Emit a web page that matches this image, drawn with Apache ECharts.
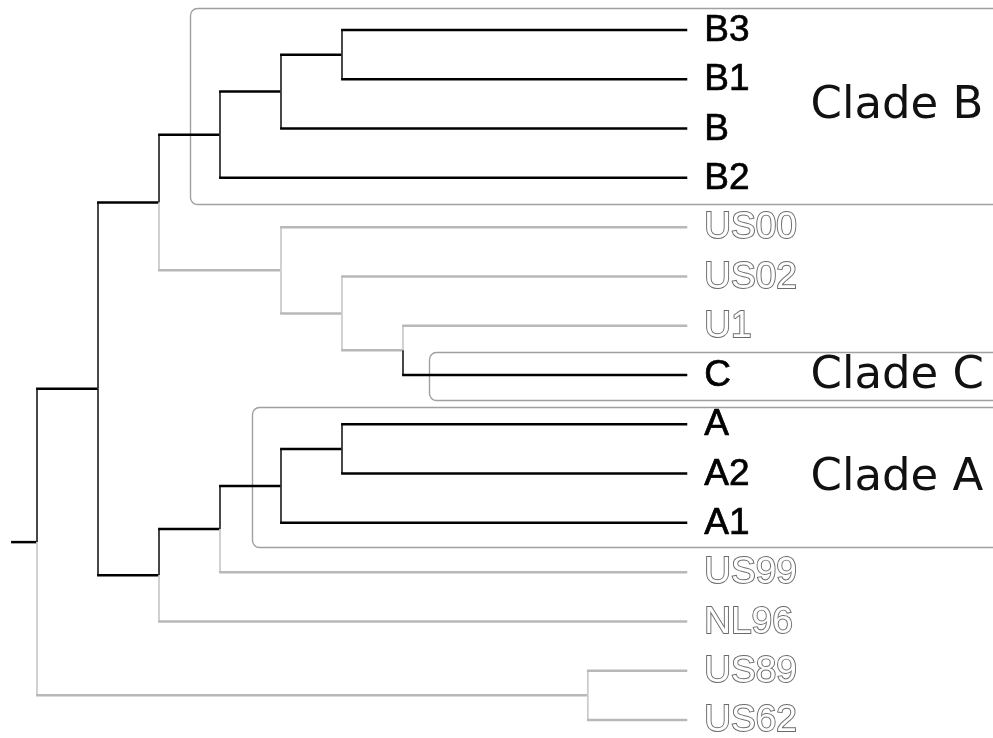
<!DOCTYPE html>
<html>
<head>
<meta charset="utf-8">
<script src="https://cdn.jsdelivr.net/npm/echarts@6/dist/echarts.min.js"></script>
<style>
  html, body { margin: 0; padding: 0; background: #fff; }
  #chart { width: 993px; height: 738px; }
</style>
</head>
<body>
<div id="chart"></div>
<script>
// Tip names, top to bottom
const leaves = ['B3', 'B1', 'B', 'B2', 'US00', 'US02', 'U1', 'C', 'A', 'A2', 'A1', 'US99', 'NL96', 'US89', 'US62'];
const leafParents = ['n5', 'n5', 'n4', 'cladeB', 'n6', 'n7', 'n8', 'n8', 'n12', 'n12', 'cladeA', 'n10', 'n9', 'n13', 'n13'];
const leafHighlighted = [true, true, true, true, false, false, false, true, true, true, true, false, false, false, false];
const leafDepth = 10.66;

// Internal nodes with their parent and depth from the root
const internalNodes   = ['root', 'n1', 'n2', 'cladeB', 'n4', 'n5', 'n6', 'n7', 'n8', 'n9', 'n10', 'cladeA', 'n12', 'n13'];
const internalParents = [null, 'root', 'n1', 'n2', 'cladeB', 'n4', 'n2', 'n6', 'n7', 'n1', 'n9', 'n10', 'cladeA', 'root'];
const internalDepths  = [0, 1, 2, 3, 4, 5, 4, 5, 6, 2, 3, 4, 5, 9.03];
const internalHighlighted = [true, true, true, true, true, true, false, false, false, true, true, true, true, false];
const rootStubDepth = -0.41;

// Clade boxes: name, tip range (in tip rows) and left edge (in depth)
const cladeNames = ['Clade B', 'Clade C', 'Clade A'];
const cladeSpans = [[-0.45, 3.52], [6.53, 7.5], [7.65, 10.5]];
const cladeLeft = [2.5, 6.42, 3.52];
const cladeLabelDepth = 12.68;

// ---- build the tree geometry ----
const depth = {}, parent = {}, highlighted = {}, rowOf = {};
internalNodes.forEach((n, i) => {
  depth[n] = internalDepths[i];
  parent[n] = internalParents[i];
  highlighted[n] = internalHighlighted[i];
});
leaves.forEach((n, i) => {
  depth[n] = leafDepth;
  parent[n] = leafParents[i];
  highlighted[n] = leafHighlighted[i];
  rowOf[n] = i;
});
const children = {};
Object.keys(parent).forEach(n => {
  const p = parent[n];
  if (p) (children[p] = children[p] || []).push(n);
});
function rowOfNode(n) {
  if (rowOf[n] !== undefined) return rowOf[n];
  const ys = children[n].map(rowOfNode);
  rowOf[n] = (Math.min.apply(null, ys) + Math.max.apply(null, ys)) / 2;
  return rowOf[n];
}
rowOfNode('root');

const branchData = [[rootStubDepth, rowOf.root, 0, rowOf.root, 1]];
Object.keys(parent).forEach(n => {
  const p = parent[n];
  if (!p) return;
  branchData.push([depth[p], rowOf[p], depth[n], rowOf[n], highlighted[n] ? 1 : 0]);
});
const leafLabelData = leaves.map((n, i) => [leafDepth, i, leafHighlighted[i] ? 1 : 0]);
const cladeData = cladeNames.map((n, i) => [cladeLeft[i], cladeSpans[i][0], cladeSpans[i][1], cladeLabelDepth]);

const chart = echarts.init(document.getElementById('chart'), null, { renderer: 'canvas' });

chart.setOption({
  animation: false,
  backgroundColor: '#ffffff',
  grid: { left: 0, right: 0, top: 0, bottom: 0 },
  xAxis: { type: 'value', min: -0.6066, max: 15.672, show: false },
  yAxis: { type: 'value', min: -0.6087, max: 14.365, inverse: true, show: false },
  series: [
    {
      // clade boxes and clade names
      type: 'custom',
      coordinateSystem: 'cartesian2d',
      silent: true,
      z: 1,
      data: cladeData,
      renderItem: function (params, api) {
        const tl = api.coord([api.value(0), api.value(1)]);
        const br = api.coord([api.value(0), api.value(2)]);
        const lab = api.coord([api.value(3), (api.value(1) + api.value(2)) / 2]);
        return {
          type: 'group',
          children: [
            {
              type: 'rect',
              shape: { x: Math.round(tl[0]) + 0.5, y: Math.round(tl[1]) + 0.5, width: 1200, height: Math.round(br[1] - tl[1]), r: 7 },
              style: { fill: 'none', stroke: '#a0a0a0', lineWidth: 1.4 }
            },
            {
              type: 'text',
              style: {
                text: cladeNames[params.dataIndex],
                x: lab[0], y: lab[1] + 1,
                align: 'left', verticalAlign: 'middle',
                font: '45px "DejaVu Sans"',
                fill: '#111'
              }
            }
          ]
        };
      }
    },
    {
      // branches drawn as elbows: vertical at the parent, horizontal to the child
      type: 'custom',
      coordinateSystem: 'cartesian2d',
      silent: true,
      z: 2,
      data: branchData,
      renderItem: function (params, api) {
        const p = api.coord([api.value(0), api.value(1)]);
        const c = api.coord([api.value(2), api.value(3)]);
        const dark = api.value(4) === 1;
        const items = [];
        if (Math.abs(c[1] - p[1]) > 0.1) {
          items.push({
            type: 'line',
            shape: { x1: p[0], y1: p[1], x2: p[0], y2: c[1] },
            style: { stroke: dark ? '#333' : '#cccccc', lineWidth: 1.8 }
          });
        }
        items.push({
          type: 'line',
          shape: { x1: p[0] - 0.9, y1: c[1], x2: c[0], y2: c[1] },
          style: { stroke: dark ? '#000' : '#b8b8b8', lineWidth: 2.5 }
        });
        return { type: 'group', children: items };
      }
    },
    {
      // tip names
      type: 'custom',
      coordinateSystem: 'cartesian2d',
      silent: true,
      z: 3,
      data: leafLabelData,
      renderItem: function (params, api) {
        const pt = api.coord([api.value(0), api.value(1)]);
        const dark = api.value(2) === 1;
        const style = {
          text: leaves[params.dataIndex],
          x: pt[0] + 17, y: pt[1] + 1,
          align: 'left', verticalAlign: 'middle',
          font: '37px "Liberation Sans", Arial, sans-serif',
          fill: dark ? '#000' : '#fff'
        };
        if (dark) {
          style.stroke = '#000';
          style.lineWidth = 0.7;
        } else {
          style.stroke = '#6a6a6a';
          style.lineWidth = 1.9;
          style.strokeFirst = false;
        }
        return { type: 'text', style: style };
      }
    }
  ]
});
</script>
</body>
</html>
